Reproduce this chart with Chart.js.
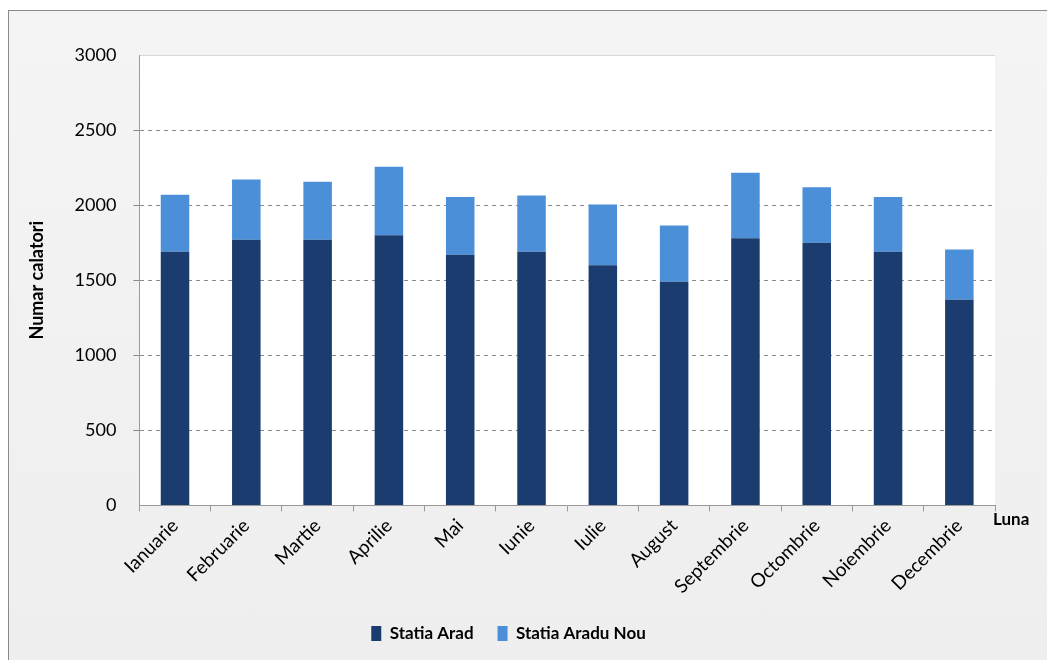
<!DOCTYPE html>
<html>
<head>
<meta charset="utf-8">
<script src="https://cdn.jsdelivr.net/npm/chart.js@4/dist/chart.umd.min.js"></script>
<style>
  body { margin: 0; background: #ffffff; }
  #frame { position: absolute; left: 8px; top: 10px; width: 1045px; height: 660px;
           border: 1px solid #8a8a8a; background: linear-gradient(#f4f4f4, #eeeeee); }
  #wrap { position: absolute; left: 0; top: 0; width: 1047px; height: 660px; }
</style>
</head>
<body>
<div id="frame"></div>
<div id="wrap"><canvas id="chart" width="1047" height="660"></canvas></div>
<script>
const luni = ['Ianuarie', 'Februarie', 'Martie', 'Aprilie', 'Mai', 'Iunie', 'Iulie',
              'August', 'Septembrie', 'Octombrie', 'Noiembrie', 'Decembrie'];
const statiaArad = [1690, 1770, 1770, 1800, 1670, 1690, 1600, 1490, 1780, 1750, 1690, 1370];
const statiaAraduNou = [380, 400, 385, 455, 385, 375, 405, 375, 435, 370, 365, 335];
const yTicks = [0, 500, 1000, 1500, 2000, 2500, 3000];

const fontName = 'Lato, "Open Sans", sans-serif';

// fundal alb pt zona graficului + titlul "Luna" la capatul axei
const plotBg = {
  id: 'plotBg',
  beforeDraw(chart) {
    const {ctx, chartArea: a} = chart;
    ctx.save();
    ctx.fillStyle = '#ffffff';
    ctx.fillRect(a.left, a.top, a.right - a.left, a.bottom - a.top);
    ctx.strokeStyle = '#d8d8d8';
    ctx.lineWidth = 1;
    ctx.beginPath();
    ctx.moveTo(a.left, a.top + 0.5);
    ctx.lineTo(a.right, a.top + 0.5);
    ctx.stroke();
    ctx.restore();
  },
  afterDraw(chart) {
    const {ctx} = chart;
    const x = chart.scales.x;
    ctx.save();
    ctx.font = 'bold 17px ' + fontName;
    ctx.fillStyle = '#000';
    ctx.textBaseline = 'middle';
    ctx.fillText('Luna', x.right - 2, x.top + 14);
    ctx.restore();
  }
};

new Chart(document.getElementById('chart'), {
  type: 'bar',
  data: {
    labels: luni,
    datasets: [{
      label: 'Statia Arad',
      data: statiaArad,
      backgroundColor: '#1b3c6f'
    }, {
      label: 'Statia Aradu Nou',
      data: statiaAraduNou,
      backgroundColor: '#4b8fd8'
    }]
  },
  options: {
    responsive: false,
    animation: false,
    layout: { padding: { left: 22, top: 55, right: 52, bottom: 8 } },
    datasets: { bar: { categoryPercentage: 0.8, barPercentage: 0.5 } },
    plugins: {
      legend: {
        position: 'bottom',
        labels: {
          font: { family: fontName, size: 17, weight: 'bold' },
          color: '#000',
          boxWidth: 10,
          boxHeight: 15,
          padding: 24
        }
      },
      tooltip: { enabled: false }
    },
    scales: {
      x: {
        stacked: true,
        grid: { offset: true, drawOnChartArea: false, tickLength: 6, color: '#9a9a9a' },
        border: { display: true, color: '#9a9a9a' },
        ticks: {
          minRotation: 45, maxRotation: 45,
          color: '#000',
          font: { family: fontName, size: 19 }
        }
      },
      y: {
        stacked: true,
        min: 0, max: 3000,
        afterBuildTicks(axis) { axis.ticks = yTicks.map(v => ({ value: v })); },
        grid: {
          color: c => (c.tick && (c.tick.value === 0 || c.tick.value === 3000)) ? 'rgba(0,0,0,0)' : '#8a8a8a',
          tickLength: 6
        },
        border: { display: true, color: '#9a9a9a', dash: [4, 4] },
        ticks: {
          color: '#000',
          padding: 17,
          font: { family: fontName, size: 18 },
          callback: v => String(v)
        },
        title: {
          display: true,
          text: 'Numar calatori',
          color: '#000',
          font: { family: fontName, size: 18, weight: 'bold' },
          padding: { bottom: 10 }
        }
      }
    }
  },
  plugins: [plotBg]
});
</script>
</body>
</html>
